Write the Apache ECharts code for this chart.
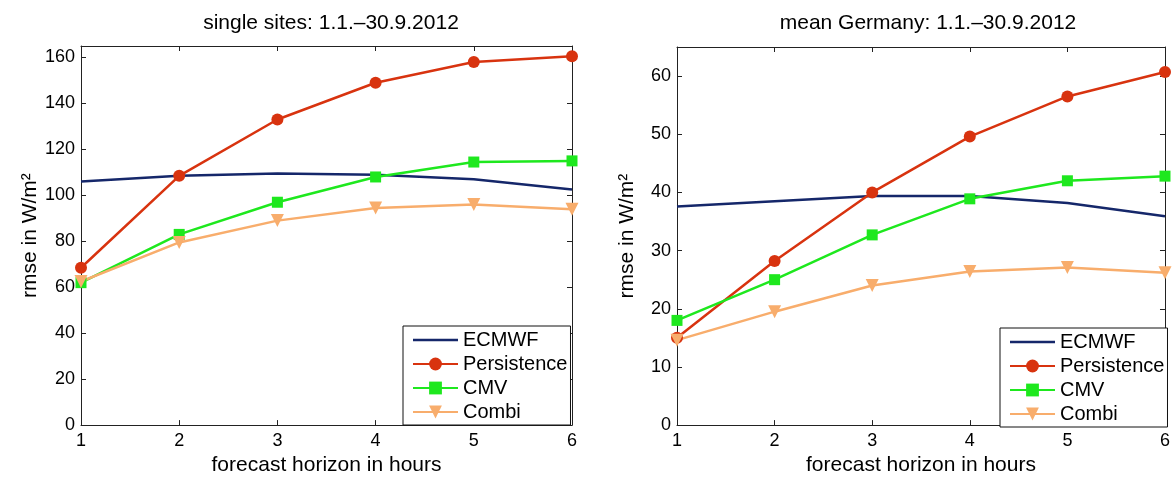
<!DOCTYPE html>
<html>
<head>
<meta charset="utf-8">
<script src="https://cdn.jsdelivr.net/npm/echarts@6/dist/echarts.min.js"></script>
<style>
    html, body { margin: 0; padding: 0; background: #fff; }
    #main { width: 1173px; height: 481px; }
</style>
</head>
<body>
<div id="main"></div>
<script>
// forecast horizon (hours)
var hours = [1, 2, 3, 4, 5, 6];

// single sites
var siteEcmwf = [106, 108.5, 109.5, 109, 107, 102.5];
var sitePersistence = [68.5, 108.5, 133, 149, 158, 160.5];
var siteCmv = [62, 83, 97, 108, 114.5, 115];
var siteCombi = [62.5, 79.5, 89, 94.5, 96, 94];

// mean Germany
var germEcmwf = [37.6, 38.5, 39.4, 39.4, 38.2, 35.9];
var germPersistence = [15, 28.2, 40, 49.6, 56.5, 60.7];
var germCmv = [18, 25, 32.7, 38.9, 42, 42.8];
var germCombi = [14.6, 19.5, 24, 26.4, 27.1, 26.2];

var names = ['ECMWF', 'Persistence', 'CMV', 'Combi'];
var colors = ['#15276a', '#d8330f', '#1ee81e', '#f8ad6c'];

var font = 'Liberation Sans, Arial, sans-serif';

function pairs(vals) {
    var out = [];
    for (var i = 0; i < hours.length; i++) {
        out.push([hours[i], vals[i]]);
    }
    return out;
}

function makeSeries(name, vals, idx) {
    var s = {
        name: name,
        type: 'line',
        xAxisIndex: idx * 2,
        yAxisIndex: idx * 2,
        data: pairs(vals),
        lineStyle: { width: 2.5 },
        symbolSize: 12,
        symbol: 'circle',
        silent: true,
        animation: false,
        z: 3
    };
    if (name === 'ECMWF') {
        s.symbol = 'none';
    } else if (name === 'CMV') {
        s.symbol = 'rect';
        s.symbolSize = 11;
    } else if (name === 'Combi') {
        s.symbol = 'triangle';
        s.symbolRotate = 180;
        s.symbolSize = 13;
    }
    return s;
}

var axisLine = { show: true, onZero: false, lineStyle: { color: '#222', width: 1 } };
var axisTick = { show: true, inside: true, length: 5, lineStyle: { color: '#222' } };

//底部x轴 + 顶部只有刻度
function xAxes(grid) {
    return [{
        type: 'value', gridIndex: grid, position: 'bottom',
        min: 1, max: 6, interval: 1,
        name: 'forecast horizon in hours', nameLocation: 'middle', nameGap: 29,
        nameTextStyle: { fontSize: 21, color: '#000', fontFamily: font },
        axisLine: axisLine,
        axisTick: axisTick,
        axisLabel: { fontSize: 18, color: '#000', fontFamily: font, margin: 7 },
        splitLine: { show: false }
    }, {
        type: 'value', gridIndex: grid, position: 'top',
        min: 1, max: 6, interval: 1,
        axisLine: axisLine,
        axisTick: axisTick,
        axisLabel: { show: false },
        splitLine: { show: false }
    }];
}

//左侧y轴 + 右侧只有刻度
function yAxes(grid, max, interval, gap) {
    return [{
        type: 'value', gridIndex: grid, position: 'left',
        min: 0, max: max, interval: interval,
        name: 'rmse in W/m²', nameLocation: 'middle', nameGap: gap,
        nameTextStyle: { fontSize: 21, color: '#000', fontFamily: font },
        axisLine: axisLine,
        axisTick: axisTick,
        axisLabel: { fontSize: 18, color: '#000', fontFamily: font, margin: 6, showMaxLabel: false },
        splitLine: { show: false }
    }, {
        type: 'value', gridIndex: grid, position: 'right',
        min: 0, max: max, interval: interval,
        axisLine: axisLine,
        axisTick: axisTick,
        axisLabel: { show: false },
        splitLine: { show: false }
    }];
}

function legend(left, top) {
    var data = [];
    for (var i = 0; i < names.length; i++) {
        if (names[i] === 'ECMWF') {
            // 只画线, 没有标记
            data.push({ name: names[i], icon: 'path://M0,0 L45,0 L45,2.5 L0,2.5 Z' });
        } else {
            data.push({ name: names[i] });
        }
    }
    return {
        orient: 'vertical',
        left: left,
        top: top,
        data: data,
        backgroundColor: '#fff',
        borderColor: '#111',
        borderWidth: 1,
        borderRadius: 0,
        padding: [4, 3, 3, 9],
        itemWidth: 45,
        itemHeight: 16,
        itemGap: 4,
        selectedMode: false,
        textStyle: { fontSize: 20, color: '#000', fontFamily: font, lineHeight: 20 }
    };
}

var myChart = echarts.init(document.getElementById('main'));

var series = [
    makeSeries('ECMWF', siteEcmwf, 0),
    makeSeries('Persistence', sitePersistence, 0),
    makeSeries('CMV', siteCmv, 0),
    makeSeries('Combi', siteCombi, 0),
    makeSeries('ECMWF', germEcmwf, 1),
    makeSeries('Persistence', germPersistence, 1),
    makeSeries('CMV', germCmv, 1),
    makeSeries('Combi', germCombi, 1)
];

var option = {
    backgroundColor: '#fff',
    color: colors,
    animation: false,
    title: [{
        text: 'single sites: 1.1.\u201330.9.2012',
        left: 326, top: 8, textAlign: 'center',
        textStyle: { fontSize: 21, fontWeight: 'normal', color: '#000', fontFamily: font }
    }, {
        text: 'mean Germany: 1.1.\u201330.9.2012',
        left: 923, top: 8, textAlign: 'center',
        textStyle: { fontSize: 21, fontWeight: 'normal', color: '#000', fontFamily: font }
    }],
    legend: [legend(403, 326), legend(1000, 328)],
    grid: [
        { left: 81, top: 46, width: 491, height: 386 },
        { left: 677, top: 47, width: 493, height: 386 }
    ],
    xAxis: xAxes(0).concat(xAxes(1)),
    yAxis: yAxes(0, 165, 20, 39).concat(yAxes(1, 65, 10, 39)),
    series: series
};
myChart.setOption(option);
</script>
</body>
</html>
